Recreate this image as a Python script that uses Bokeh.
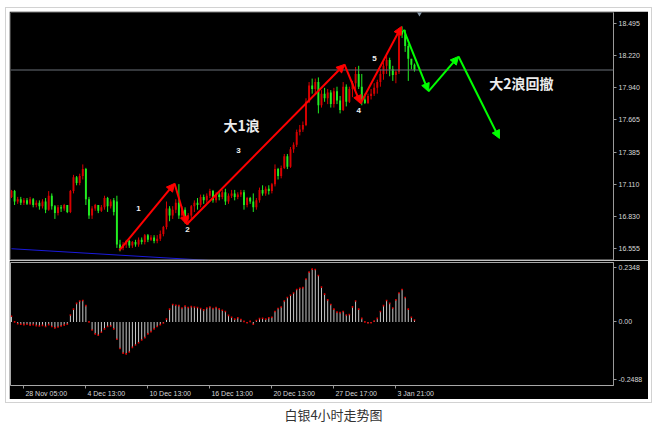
from bokeh.plotting import figure
from bokeh.models import (Range1d, FixedTicker, LinearAxis, Span, Arrow, NormalHead,
                          ColumnDataSource, Label, Div, PrintfTickFormatter)
from bokeh.layouts import column
from bokeh.embed import file_html
from bokeh.resources import INLINE
from bokeh.core.properties import value

# ---------------- data (silver, 4H bars) ----------------
opens = [17.00, 17.05, 16.96, 16.98, 16.95, 16.97, 16.94, 16.98, 16.93, 16.95,
         16.92, 16.96, 16.89, 17.01, 16.92, 16.86, 16.91, 16.90, 16.93, 16.87,
         17.05, 17.17, 17.12, 17.18, 17.24, 16.98, 16.84, 16.90, 16.93, 16.88,
         16.91, 16.99, 16.92, 16.97, 16.96, 16.59, 16.56, 16.59, 16.62, 16.58,
         16.61, 16.59, 16.63, 16.61, 16.67, 16.63, 16.65, 16.62, 16.64, 16.68,
         16.74, 16.90, 16.84, 16.89, 16.95, 16.84, 16.89, 16.81, 16.84, 16.92,
         16.95, 16.93, 17.00, 16.97, 17.01, 17.05, 16.97, 17.02, 17.00, 17.04,
         16.96, 17.01, 17.03, 17.00, 17.02, 17.04, 16.93, 16.99, 16.96, 16.91,
         16.97, 17.06, 17.03, 17.07, 17.05, 17.11, 17.24, 17.18, 17.25, 17.35,
         17.26, 17.41, 17.45, 17.56, 17.58, 17.62, 17.82, 17.96, 17.93, 17.99,
         17.79, 17.89, 17.85, 17.90, 17.80, 17.91, 17.83, 17.75, 17.95, 17.82,
         17.93, 17.98, 18.06, 17.95, 17.84, 17.81, 17.87, 17.89, 17.94, 17.99,
         18.06, 18.13, 18.18, 18.10, 18.05, 18.08, 18.43, 18.40, 18.30, 18.19,
         18.14]
highs = [17.06, 17.06, 17.00, 17.00, 16.99, 16.99, 17.00, 16.99, 16.97, 16.97,
         16.98, 16.99, 17.05, 17.03, 16.93, 16.93, 16.93, 16.94, 16.93, 17.06,
         17.19, 17.18, 17.20, 17.28, 17.25, 17.00, 16.92, 16.94, 16.93, 16.93,
         17.01, 17.00, 16.98, 16.99, 17.01, 16.63, 16.61, 16.63, 16.63, 16.62,
         16.63, 16.65, 16.65, 16.68, 16.68, 16.67, 16.67, 16.67, 16.71, 16.75,
         16.96, 16.92, 16.92, 16.98, 17.11, 16.92, 16.91, 16.86, 16.93, 16.97,
         16.99, 17.02, 17.02, 17.03, 17.07, 17.06, 17.04, 17.04, 17.06, 17.07,
         17.03, 17.06, 17.06, 17.04, 17.06, 17.06, 17.00, 17.00, 17.03, 16.99,
         17.08, 17.10, 17.09, 17.10, 17.12, 17.28, 17.25, 17.27, 17.37, 17.37,
         17.43, 17.47, 17.58, 17.62, 17.65, 17.85, 17.99, 18.02, 18.02, 18.03,
         17.92, 17.94, 17.93, 17.92, 17.94, 17.95, 17.87, 17.99, 17.97, 17.95,
         18.00, 18.12, 18.13, 18.06, 17.89, 17.89, 17.93, 17.98, 18.01, 18.10,
         18.16, 18.22, 18.20, 18.13, 18.09, 18.45, 18.47, 18.44, 18.32, 18.19,
         18.15]
lows = [16.99, 16.93, 16.94, 16.93, 16.93, 16.93, 16.93, 16.91, 16.91, 16.89,
        16.90, 16.86, 16.88, 16.89, 16.81, 16.84, 16.87, 16.88, 16.86, 16.86,
        17.03, 17.10, 17.10, 17.15, 16.93, 16.81, 16.81, 16.88, 16.86, 16.87,
        16.89, 16.87, 16.90, 16.84, 16.56, 16.53, 16.54, 16.56, 16.56, 16.56,
        16.57, 16.57, 16.59, 16.59, 16.61, 16.62, 16.60, 16.60, 16.62, 16.66,
        16.72, 16.79, 16.81, 16.86, 16.81, 16.81, 16.77, 16.76, 16.81, 16.87,
        16.89, 16.91, 16.94, 16.95, 16.99, 16.95, 16.95, 16.97, 16.98, 16.93,
        16.94, 16.99, 16.97, 16.98, 17.00, 16.89, 16.91, 16.94, 16.87, 16.89,
        16.95, 17.01, 17.01, 17.02, 17.03, 17.09, 17.15, 17.16, 17.24, 17.24,
        17.25, 17.38, 17.43, 17.53, 17.56, 17.61, 17.81, 17.89, 17.88, 17.72,
        17.77, 17.82, 17.80, 17.77, 17.77, 17.80, 17.72, 17.74, 17.78, 17.81,
        17.86, 17.91, 17.93, 17.79, 17.80, 17.80, 17.84, 17.87, 17.89, 17.95,
        18.01, 18.06, 18.04, 18.00, 17.98, 18.06, 18.37, 18.25, 18.00, 18.10,
        18.08]
closes = [17.05, 16.96, 16.98, 16.95, 16.97, 16.94, 16.98, 16.93, 16.95, 16.92,
          16.96, 16.89, 17.01, 16.92, 16.86, 16.91, 16.90, 16.93, 16.87, 17.05,
          17.17, 17.12, 17.18, 17.24, 16.98, 16.84, 16.90, 16.93, 16.88, 16.91,
          16.99, 16.92, 16.96, 16.87, 16.59, 16.56, 16.59, 16.62, 16.58, 16.61,
          16.59, 16.63, 16.61, 16.67, 16.63, 16.65, 16.62, 16.64, 16.68, 16.74,
          16.90, 16.84, 16.89, 16.95, 16.84, 16.89, 16.81, 16.84, 16.92, 16.95,
          16.93, 17.00, 16.97, 17.01, 17.05, 16.97, 17.02, 17.00, 17.04, 16.96,
          17.01, 17.03, 17.00, 17.02, 17.04, 16.93, 16.99, 16.96, 16.91, 16.97,
          17.06, 17.03, 17.07, 17.05, 17.11, 17.24, 17.18, 17.25, 17.35, 17.26,
          17.41, 17.45, 17.56, 17.58, 17.62, 17.82, 17.96, 17.93, 17.99, 17.79,
          17.89, 17.85, 17.90, 17.80, 17.91, 17.83, 17.75, 17.95, 17.82, 17.93,
          17.98, 18.06, 17.95, 17.84, 17.81, 17.87, 17.89, 17.94, 17.99, 18.06,
          18.13, 18.18, 18.10, 18.05, 18.08, 18.43, 18.40, 18.30, 18.19, 18.14,
          18.094]
macd = [0.024, 0.000, -0.008, -0.010, -0.012, -0.010, -0.014, -0.012, -0.016, -0.018,
        -0.015, -0.020, -0.012, -0.020, -0.026, -0.022, -0.018, -0.014, -0.010, 0.030,
        0.055, 0.080, 0.090, 0.092, 0.070, 0.000, -0.035, -0.052, -0.058, -0.045,
        -0.030, -0.020, -0.018, -0.030, -0.075, -0.115, -0.135, -0.138, -0.130, -0.110,
        -0.100, -0.090, -0.078, -0.068, -0.052, -0.042, -0.030, -0.020, -0.012, -0.005,
        0.012, 0.055, 0.075, 0.072, 0.070, 0.060, 0.068, 0.062, 0.066, 0.064,
        0.062, 0.058, 0.052, 0.060, 0.064, 0.058, 0.062, 0.056, 0.050, 0.045,
        0.028, 0.020, 0.012, 0.018, 0.010, 0.002, -0.004, 0.002, -0.010, 0.006,
        0.014, 0.016, 0.012, 0.018, 0.020, 0.045, 0.058, 0.064, 0.090, 0.105,
        0.115, 0.125, 0.140, 0.145, 0.148, 0.185, 0.215, 0.228, 0.226, 0.200,
        0.150, 0.120, 0.095, 0.075, 0.055, 0.042, 0.040, 0.045, 0.030, 0.032,
        0.065, 0.090, 0.055, 0.015, 0.000, -0.005, -0.004, 0.004, 0.015, 0.045,
        0.070, 0.092, 0.080, 0.060, 0.095, 0.125, 0.140, 0.105, 0.055, 0.020,
        0.008]

price_ticks = [16.555, 16.830, 17.110, 17.385, 17.665, 17.940, 18.220, 18.495]
macd_ticks = [0.2348, 0.0, -0.2488]
macd_tick_labels = ["0.2348", "0.00", "-0.2488"]
time_tick_bars = [4, 24, 44, 64, 84, 104, 124]
time_labels = ["28 Nov 05:00", "4 Dec 13:00", "10 Dec 13:00", "16 Dec 13:00",
               "20 Dec 13:00", "27 Dec 17:00", "3 Jan 21:00"]

wave_up_bars = [34.8, 52.6, 56.5, 107.4, 112.6, 125.8]
wave_up_prices = [16.538, 17.116, 16.762, 18.142, 17.805, 18.469]
wave_down_bars = [126.5, 134.5, 144.2, 157.4]
wave_down_prices = [18.443, 17.909, 18.211, 17.504]
wave_labels = ["1", "2", "3", "4", "5"]
wave_label_bars = [41.0, 56.8, 73.2, 112.0, 117.1]
wave_label_prices = [16.900, 16.719, 17.400, 17.745, 18.193]
big_labels = ["大1浪", "大2浪回撤"]
big_label_bars = [74.2, 164.5]
big_label_prices = [17.624, 17.986]
blue_line_bars = [0, 65]
blue_line_prices = [16.553, 16.450]
shift_marker_bar = [131.6]
caption = "白银4小时走势图"

# ---------------- layout constants ----------------
FONT = "Liberation Sans"
AX_COL = "#9a9a9a"
LBL_COL = "#d8d8d8"
PX_PER_BAR = 3.1
X_LO, X_HI = -0.32, 194.2
Y_LO, Y_HI = 16.4515, 18.5898
M_LO, M_HI = -0.2747, 0.2564

x_range = Range1d(X_LO, X_HI)

# ---------------- price pane ----------------
p = figure(width=639, height=249, x_range=x_range, y_range=Range1d(Y_LO, Y_HI),
           output_backend="svg", toolbar_location=None,
           x_axis_location=None, y_axis_location=None,
           min_border_left=1, min_border_right=35, min_border_top=1, min_border_bottom=0,
           background_fill_color="black", border_fill_color="black",
           outline_line_color=None)
p.grid.visible = False

n = len(closes)
idx = list(range(n))
up = [i for i in idx if closes[i] >= opens[i]]
dn = [i for i in idx if closes[i] < opens[i]]

def cds(sel):
    return ColumnDataSource(dict(
        x=[i for i in sel],
        h=[highs[i] for i in sel], l=[lows[i] for i in sel],
        top=[max(opens[i], closes[i]) for i in sel],
        bot=[min(opens[i], closes[i]) for i in sel]))

up_src, dn_src = cds(up), cds(dn)
RED, GREEN = "#d80000", "#22ee22"
p.segment(x0="x", y0="h", x1="x", y1="l", source=up_src, line_color=RED, line_width=1)
p.vbar(x="x", top="top", bottom="bot", width=0.62, source=up_src, fill_color=RED, line_color=None)
p.segment(x0="x", y0="h", x1="x", y1="l", source=dn_src, line_color=GREEN, line_width=1)
p.vbar(x="x", top="top", bottom="bot", width=0.62, source=dn_src, fill_color=GREEN, line_color=None)

p.line(blue_line_bars, blue_line_prices, line_color="#1a1adc", line_width=1)

p.add_layout(Span(location=closes[-1], dimension="width", line_color="#6a7078", line_width=1))
p.add_layout(Span(location=Y_LO + 0.005, dimension="width", line_color="#8a8a8a", line_width=1))

p.scatter(shift_marker_bar, [Y_HI], marker="inverted_triangle", size=7,
          fill_color="#8899aa", line_color=None)

def arrows(bx, py, color):
    src = ColumnDataSource(dict(x0=bx[:-1], y0=py[:-1], x1=bx[1:], y1=py[1:]))
    p.add_layout(Arrow(end=NormalHead(size=8, fill_color=color, line_color=color),
                       x_start="x0", y_start="y0", x_end="x1", y_end="y1",
                       source=src, line_color=color, line_width=2))

arrows(wave_up_bars, wave_up_prices, "#ff0000")
arrows(wave_down_bars, wave_down_prices, "#00ff00")

p.text(wave_label_bars, wave_label_prices, text=wave_labels, text_color="#f0f0f0",
       text_font=value(FONT), text_font_size="8px", text_font_style="bold",
       text_align="center", text_baseline="middle")
p.text(big_label_bars, big_label_prices, text=big_labels, text_color="#ececec",
       text_font=value("Noto Sans CJK SC"), text_font_size="14px", text_font_style="bold",
       text_align="center", text_baseline="middle")

yax = LinearAxis(ticker=FixedTicker(ticks=price_ticks),
                 formatter=PrintfTickFormatter(format="%.3f"),
                 axis_line_color=AX_COL, major_tick_line_color=AX_COL,
                 major_tick_in=0, major_tick_out=3, minor_tick_line_color=None,
                 major_label_standoff=2, major_label_text_color=LBL_COL,
                 major_label_text_font=FONT, major_label_text_font_size="7px")
p.add_layout(yax, "right")

p.add_layout(Label(x=X_HI, y=closes[-1], x_offset=1, text="%.3f" % closes[-1],
                   text_color="black", text_font=FONT, text_font_size="7px",
                   text_baseline="middle", text_align="left",
                   background_fill_color="white", border_line_color="#cccccc"))

# ---------------- MACD pane ----------------
p2 = figure(width=639, height=139, x_range=x_range, y_range=Range1d(M_LO, M_HI),
            output_backend="svg", toolbar_location=None,
            x_axis_location=None, y_axis_location=None,
            min_border_left=1, min_border_right=35, min_border_top=2, min_border_bottom=14,
            background_fill_color="black", border_fill_color="black",
            outline_line_color="#a8a8a8")
p2.grid.visible = False
p2.vbar(x=idx, top=macd, bottom=0, width=0.32, fill_color="#c8c8c8", line_color=None)
p2.scatter(idx, macd, marker="square", size=1.6, fill_color="#e00000", line_color=None)

max_ax = LinearAxis(ticker=FixedTicker(ticks=macd_ticks),
                    major_label_overrides={t: s for t, s in zip(macd_ticks, macd_tick_labels)},
                    axis_line_color=AX_COL, major_tick_line_color=AX_COL,
                    major_tick_in=0, major_tick_out=3, minor_tick_line_color=None,
                    major_label_standoff=2, major_label_text_color=LBL_COL,
                    major_label_text_font=FONT, major_label_text_font_size="7px")
p2.add_layout(max_ax, "right")

CW = {" ": 0.278, ":": 0.278, "D": 0.722, "N": 0.722, "J": 0.5, "e": 0.556,
      "c": 0.5, "o": 0.556, "v": 0.5, "a": 0.556, "n": 0.556}
def text_px(s):
    return sum(CW.get(ch, 0.556) for ch in s) * 7.0
centers = [round(t + (text_px(s) / 2 + 1.5) / PX_PER_BAR, 1) for t, s in zip(time_tick_bars, time_labels)]
tax = LinearAxis(ticker=FixedTicker(ticks=centers, minor_ticks=time_tick_bars),
                 major_label_overrides={c: s for c, s in zip(centers, time_labels)},
                 axis_line_color=None, major_tick_line_color=None, major_tick_out=0,
                 minor_tick_line_color=AX_COL, minor_tick_in=0, minor_tick_out=3,
                 major_label_standoff=1, major_label_text_color=LBL_COL,
                 major_label_text_font=FONT, major_label_text_font_size="7px")
p2.add_layout(tax, "below")

cap = Div(text=('<div style="width:647px;text-align:center;font-family:\'Noto Sans CJK SC\';'
                'font-size:13px;line-height:12px;color:#333333;">%s</div>' % caption),
          width=647, height=20)

inner = column(p, p2, styles={"border": "1px solid #d2d2d2", "padding": "3px",
                              "background-color": "white"})
root = column(inner, cap, margin=(7, 0, 0, 5))

open("out.html", "w").write(file_html(root, INLINE, title="silver 4H"))
